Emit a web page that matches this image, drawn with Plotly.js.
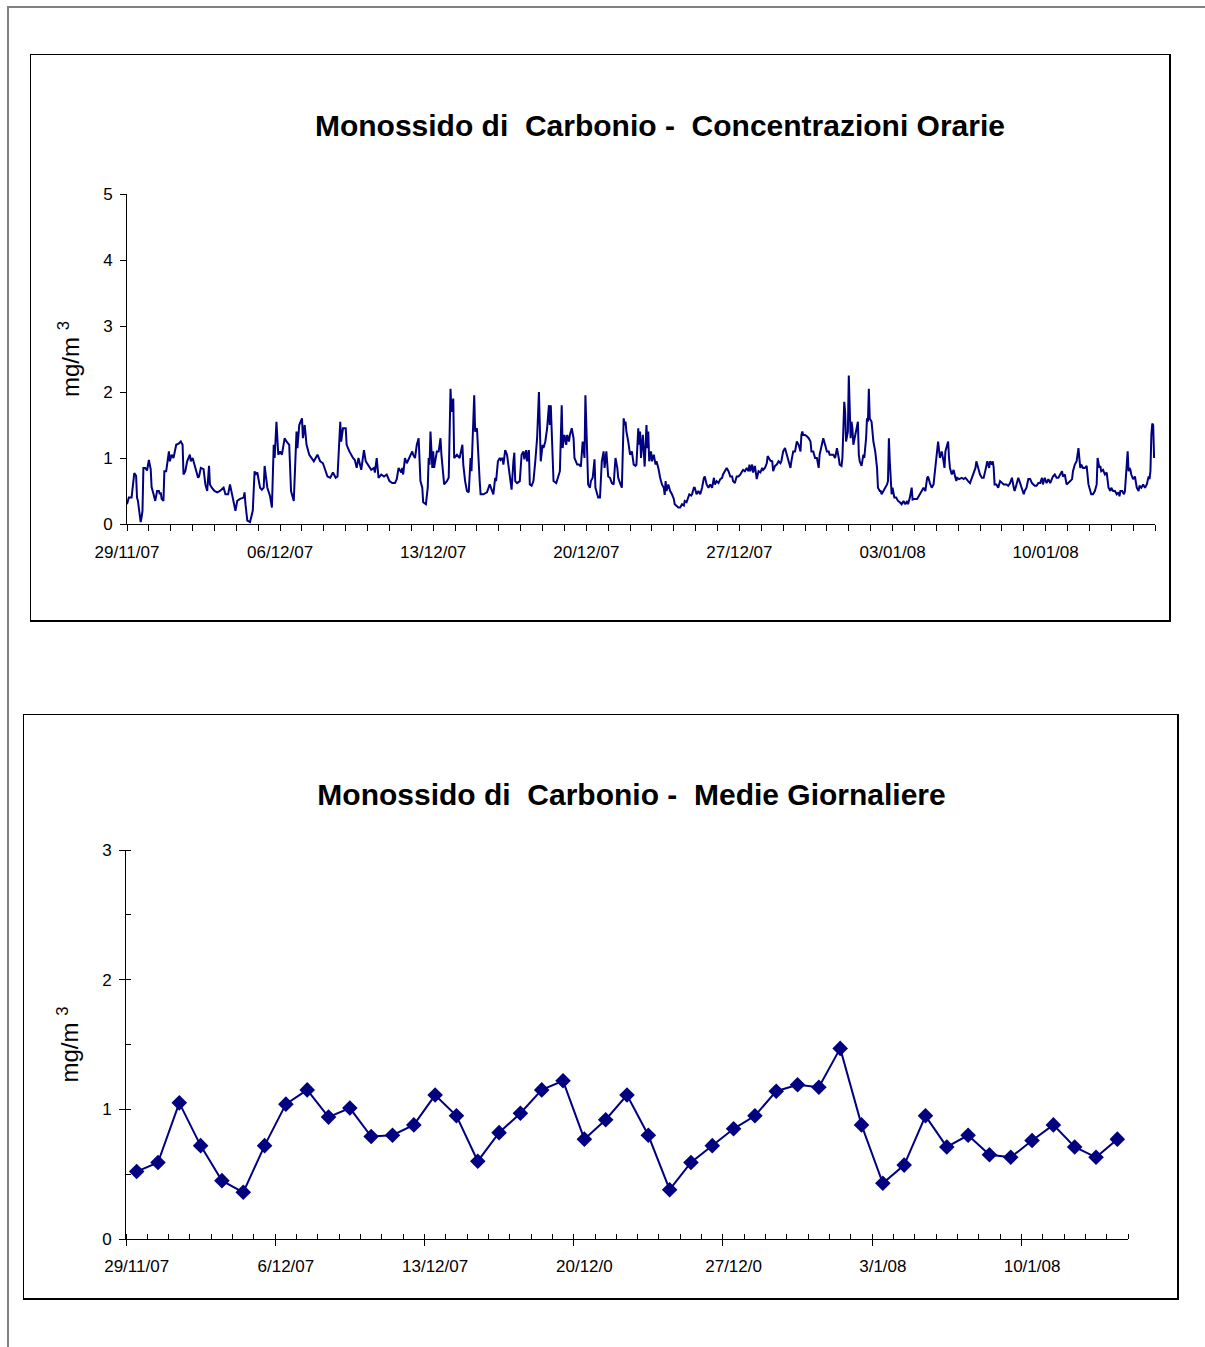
<!DOCTYPE html>
<html>
<head>
<meta charset="utf-8">
<script src="https://cdn.plot.ly/plotly-3.0.1.min.js"></script>
<style>
  html, body { margin:0; padding:0; background:#fff; width:1205px; height:1347px; overflow:hidden; }
  .abs { position:absolute; box-sizing:border-box; }
  #frame { left:7px; top:6px; width:1198px; height:1341px; border-top:2px solid #808080; border-left:2px solid #808080; }
  #box1 { left:30px; top:54px; width:1141px; height:568px; border-style:solid; border-color:#000; border-width:1px 2px 2px 1px; pointer-events:none; }
  #box2 { left:23px; top:714px; width:1156px; height:586px; border-style:solid; border-color:#000; border-width:1px 2px 2px 1px; pointer-events:none; }
  #chart1 { left:0; top:0; width:1205px; height:660px; }
  #chart2 { left:0; top:660px; width:1205px; height:687px; }
</style>
</head>
<body>
<div id="frame" class="abs"></div>
<div id="chart1" class="abs"></div>
<div id="chart2" class="abs"></div>
<div id="box1" class="abs"></div>
<div id="box2" class="abs"></div>
<script>
// ---------- Chart 1: hourly concentrations (hours since 29/11/07 00:00) ----------
const hourlyHours = [
  0,2,5,8,10,11,12,15,16,17,
  18,20,22,23,24,25,26,27,28,29,
  31,33,35,36,37,38,40,41,43,45,
  46,47,49,51,54,57,59,61,62,64,
  66,69,70,72,75,78,79,81,84,86,
  88,90,91,93,96,99,102,106,108,111,
  113,115,117,119,121,124,128,129,130,132,
  135,136,138,140,141,143,146,148,150,151,
  153,154,157,159,161,162,164,166,168,170,
  173,175,178,179,180,183,186,187,189,192,
  193,195,197,200,203,205,209,212,215,217,
  220,223,226,229,231,234,235,237,240,241,
  244,248,250,252,254,257,260,262,265,268,
  271,272,274,276,279,282,285,288,291,294,
  296,298,301,302,303,305,307,310,313,314,
  316,318,320,322,324,325,328,330,331,332,
  333,335,336,337,340,342,344,345,347,348,
  351,353,355,356,358,359,362,365,368,369,
  371,373,375,377,378,381,382,384,387,388,
  391,395,398,
  402,404,405,407,409,410,412,413,415,417,
  419,421,422,424,425,426,428,431,433,435,
  436,438,439,441,442,444,446,448,450,452,
  453,454,456,457,459,461,463,464,465,466,
  467,468,471,474,475,477,478,480,482,483,
  485,486,488,490,491,494,496,498,500,502,
  503,505,506,508,509,511,513,514,516,517,
  519,521,523,524,526,527,528,530,532,534,
  536,538,539,541,543,545,546,547,548,550,
  552,554,556,558,559,561,562,563,564,566,
  567,568,570,571,572,573,575,576,578,580,
  581,583,585,587,589,590,591,592,594,596,
  598,600,601,603,605,607,609,611,612,614,
  616,617,619,620,622,623,625,627,629,631,
  633,634,636,638,640,642,644,645,647,649,
  651,653,654,656,658,660,662,664,665,667,
  669,671,673,675,676,678,680,682,683,684,
  686,687,689,691,693,695,697,698,700,702,
  703,706,708,709,711,713,715,717,718,720,
  722,724,726,728,729,731,733,735,737,739,
  740,741,742,744,746,748,750,751,753,755,
  757,759,760,762,764,766,768,770,771,773,
  775,777,779,781,782,784,785,787,788,789,
  791,792,793,794,795,796,797,799,801,802,
  803,804,806,808,809,811,812,813,814,815,
  817,819,821,823,824,
  826,827,828,830,832,834,835,836,837,838,
  839,840,842,844,846,848,850,852,854,856,
  857,859,861,862,864,867,868,870,872,874,
  876,878,879,881,883,885,887,888,890,892,
  894,896,897,898,899,901,902,903,905,907,
  909,910,911,913,916,918,920,921,923,925,
  927,929,931,932,934,936,938,940,942,943,
  944,946,947,949,950,951,952,954,956,958,
  960,962,965,967,969,971,973,974,976,978,
  980,982,984,985,987,989,991,993,994,996,
  998,1000,1002,1004,1005,1007,1009,1011,1013,1015,
  1016,1018,1020,1022,1024,1026,1027,1029,1031,1033,
  1035,1037,1038,1040,1042,1044,1046,1047,1049,1051,
  1053,1055,1057,1058,1060,1062,1064,1065,1067,1068,
  1069,1071,1073,1075,1077,1079,1080,1082,1084,1086,
  1088,1089,1090,1092,1094,1095,1096,1098,1099,1100,
  1101,1102,1104,1106,1108,1110,1111,1113,1115,1117,
  1119,1121,1122,1123,1124,1125,1126,1127
];
const hourlyValues = [
  0.30,0.40,0.40,0.77,0.73,0.40,0.35,0.03,0.10,0.20,
  0.85,0.85,0.81,0.88,0.97,0.90,0.83,0.56,0.48,0.46,
  0.35,0.50,0.50,0.45,0.48,0.38,0.35,0.80,0.80,1.05,
  1.10,0.95,1.05,1.00,1.20,1.22,1.25,1.20,0.75,0.80,
  0.95,1.05,0.95,1.00,0.85,0.70,0.72,0.85,0.83,0.60,
  0.50,0.88,0.60,0.55,0.50,0.48,0.50,0.55,0.45,0.45,
  0.60,0.45,0.35,0.20,0.35,0.38,0.40,0.48,0.30,0.05,
  0.03,0.08,0.20,0.80,0.75,0.78,0.55,0.52,0.55,0.88,
  0.70,0.55,0.42,0.25,1.20,1.00,1.55,1.05,1.10,1.05,
  1.30,1.25,1.20,0.75,0.50,0.35,1.40,1.15,1.50,1.60,
  1.30,1.50,1.20,1.05,1.00,0.95,1.05,0.95,0.92,0.85,
  0.72,0.70,0.78,0.70,0.72,1.55,1.25,1.45,1.45,1.20,
  1.10,1.00,0.97,0.85,1.00,0.82,1.12,0.95,0.88,0.82,
  0.85,0.78,1.00,0.70,0.75,0.72,0.75,0.65,0.62,0.62,
  0.68,0.85,0.78,0.85,0.75,1.00,0.92,1.00,1.10,1.05,
  1.00,1.20,1.30,0.65,0.55,0.33,0.30,0.55,1.00,0.90,
  1.40,0.85,1.10,0.85,1.10,1.10,1.30,1.05,0.80,0.60,
  0.65,0.70,2.05,1.70,1.90,1.00,1.05,1.00,1.20,0.90,
  0.65,0.50,0.48,1.00,0.80,1.95,1.40,1.45,0.65,0.45,
  0.45,0.48,0.60,
  0.45,0.70,0.65,0.95,1.00,0.97,1.00,0.90,1.12,1.05,
  0.80,0.55,0.52,0.95,1.08,0.65,0.62,0.65,1.05,1.10,
  0.98,1.12,0.95,1.12,0.60,0.58,0.65,0.95,1.30,2.00,
  1.30,0.95,1.20,1.15,1.25,1.45,1.80,1.50,1.80,1.30,
  0.80,0.65,0.62,0.75,0.80,1.80,1.15,1.35,1.20,1.35,
  1.25,1.35,1.45,1.30,1.00,0.90,0.90,0.87,1.25,1.00,
  1.95,1.05,0.60,0.55,0.65,0.70,0.98,0.55,0.45,0.40,
  0.40,0.95,1.10,0.85,1.10,0.90,0.72,0.70,0.62,0.60,
  1.00,0.85,0.70,0.62,0.55,1.60,1.50,1.55,1.40,1.25,
  1.05,1.10,0.90,0.88,0.90,1.45,1.20,1.40,1.00,1.35,
  0.95,0.87,1.50,1.15,1.40,0.95,1.10,0.95,1.05,0.90,
  0.95,0.85,0.70,0.60,0.55,0.44,0.65,0.50,0.60,0.50,
  0.45,0.38,0.30,0.28,0.25,0.25,0.30,0.28,0.35,0.33,
  0.40,0.45,0.43,0.45,0.55,0.55,0.45,0.50,0.45,0.55,
  0.70,0.72,0.60,0.55,0.60,0.55,0.70,0.60,0.65,0.62,
  0.68,0.70,0.75,0.80,0.85,0.80,0.72,0.72,0.65,0.62,
  0.72,0.72,0.75,0.80,0.82,0.80,0.85,0.80,0.90,0.80,
  0.90,0.78,0.88,0.68,0.80,0.78,0.85,0.82,0.85,0.92,
  1.03,0.96,0.95,0.80,0.88,0.90,0.95,0.92,0.95,1.10,
  1.15,1.05,0.95,0.85,0.95,1.10,1.10,1.25,1.20,1.10,
  1.35,1.40,1.35,1.35,1.33,1.30,1.25,1.10,1.10,1.00,
  1.00,0.85,1.05,1.20,1.30,1.20,1.10,1.10,1.05,1.05,
  1.05,1.00,1.15,1.00,0.90,0.88,1.00,1.85,1.70,1.25,
  1.40,2.25,1.90,1.30,1.55,1.45,1.20,1.35,1.50,1.55,
  1.05,0.95,0.88,1.05,1.00,1.30,1.60,1.55,2.05,1.60,
  1.55,1.25,1.10,0.85,0.55,
  0.50,0.50,0.45,0.50,0.55,0.60,0.65,1.30,0.95,0.70,
  0.45,0.55,0.40,0.40,0.35,0.33,0.30,0.35,0.30,0.35,
  0.30,0.40,0.55,0.37,0.38,0.38,0.40,0.45,0.50,0.55,
  0.50,0.70,0.72,0.62,0.55,0.60,0.85,0.90,1.25,1.00,
  1.10,0.95,0.85,1.10,1.15,1.25,1.00,0.85,0.75,0.82,
  0.70,0.65,0.70,0.68,0.70,0.68,0.70,0.68,0.65,0.62,
  0.70,0.75,0.85,0.95,0.85,0.75,0.70,0.70,0.82,0.90,
  0.95,0.85,0.95,0.90,0.95,0.85,0.60,0.60,0.55,0.65,
  0.62,0.60,0.60,0.58,0.62,0.70,0.55,0.50,0.60,0.70,
  0.62,0.55,0.45,0.50,0.55,0.68,0.68,0.62,0.60,0.58,
  0.58,0.62,0.62,0.70,0.60,0.70,0.62,0.68,0.62,0.70,
  0.72,0.75,0.70,0.70,0.75,0.80,0.72,0.75,0.60,0.62,
  0.65,0.68,0.80,0.90,0.95,1.15,0.85,0.90,0.85,0.85,
  0.88,0.60,0.50,0.45,0.45,0.50,0.60,1.00,0.85,0.88,
  0.80,0.82,0.75,0.78,0.55,0.50,0.55,0.50,0.50,0.45,
  0.48,0.42,0.50,0.50,0.45,0.50,0.70,1.10,0.80,0.85,
  0.82,0.75,0.68,0.72,0.55,0.50,0.58,0.55,0.60,0.55,
  0.60,0.72,0.68,0.80,1.35,1.52,1.50,1.00
];
const hourlyTickDates  = ['2007-11-29','2007-12-06','2007-12-13','2007-12-20','2007-12-27','2008-01-03','2008-01-10'];
const hourlyTickLabels = ['29/11/07','06/12/07','13/12/07','20/12/07','27/12/07','03/01/08','10/01/08'];
const hourlyRange = ['2007-11-29 00:00','2008-01-15 00:00'];

// ---------- Chart 2: daily means ----------
const dailyDates = [
  '2007-11-29','2007-11-30','2007-12-01','2007-12-02','2007-12-03','2007-12-04','2007-12-05',
  '2007-12-06','2007-12-07','2007-12-08','2007-12-09','2007-12-10','2007-12-11','2007-12-12',
  '2007-12-13','2007-12-14','2007-12-15','2007-12-16','2007-12-17','2007-12-18','2007-12-19',
  '2007-12-20','2007-12-21','2007-12-22','2007-12-23','2007-12-24','2007-12-25','2007-12-26',
  '2007-12-27','2007-12-28','2007-12-29','2007-12-30','2007-12-31','2008-01-01','2008-01-02',
  '2008-01-03','2008-01-04','2008-01-05','2008-01-06','2008-01-07','2008-01-08','2008-01-09',
  '2008-01-10','2008-01-11','2008-01-12','2008-01-13','2008-01-14'
];
const dailyValues = [
  0.52,0.59,1.05,0.72,0.45,0.36,0.72,
  1.04,1.15,0.94,1.01,0.79,0.80,0.88,
  1.11,0.95,0.60,0.82,0.97,1.15,1.22,
  0.77,0.92,1.11,0.80,0.38,0.59,0.72,
  0.85,0.95,1.14,1.19,1.17,1.47,0.88,
  0.43,0.57,0.95,0.71,0.80,0.65,0.63,
  0.76,0.88,0.71,0.63,0.77
];
const dailyLabelDates = ['2007-11-29','2007-12-06','2007-12-13','2007-12-20','2007-12-27','2008-01-03','2008-01-10'];
const dailyTickLabels = ['29/11/07','6/12/07','13/12/07','20/12/0','27/12/0','3/1/08','10/1/08'];
const dailyTickBounds = ['2007-11-28 12:00','2007-12-05 12:00','2007-12-12 12:00','2007-12-19 12:00','2007-12-26 12:00','2008-01-02 12:00','2008-01-09 12:00'];
const dailyRange = ['2007-11-28 12:00','2008-01-14 12:00'];

const title1 = 'Monossido di&nbsp; Carbonio -&nbsp; Concentrazioni Orarie';
const title2 = 'Monossido di&nbsp; Carbonio -&nbsp; Medie Giornaliere';
const yTitle = 'mg/m <sup>3</sup>';

// ---------- build ----------
const startMs = Date.UTC(2007, 10, 29);
const hourlyX = hourlyHours.map(h => new Date(startMs + h * 3600000).toISOString().slice(0, 16).replace('T', ' '));

const FONT = 'Liberation Sans, Arial, Helvetica, sans-serif';
const NAVY = '#000080';
const DAY = 86400000;

const baseAxis = {
  showline: true, linecolor: '#000', linewidth: 1, showgrid: false, zeroline: false,
  tickcolor: '#000', tickwidth: 1, fixedrange: true
};

Plotly.newPlot('chart1', [{
  type: 'scatter', mode: 'lines', x: hourlyX, y: hourlyValues,
  line: { color: NAVY, width: 2 }, hoverinfo: 'skip'
}], {
  width: 1205, height: 660,
  margin: { l: 127, r: 50, t: 194, b: 136 },
  paper_bgcolor: 'rgba(0,0,0,0)', plot_bgcolor: 'rgba(0,0,0,0)',
  font: { family: FONT, color: '#000', size: 17 },
  showlegend: false,
  title: { text: title1, x: 0.5477, xanchor: 'center', y: 0.8106, yanchor: 'middle',
           font: { family: FONT, size: 30, weight: 700, color: '#000' } },
  xaxis: Object.assign({}, baseAxis, {
    type: 'date', range: hourlyRange, tickmode: 'array',
    tickvals: hourlyTickDates, ticktext: hourlyTickLabels,
    ticks: 'outside', ticklen: 6, ticklabelstandoff: 7,
    tickfont: { size: 17 },
    minor: { ticks: 'outside', ticklen: 6, tickcolor: '#000', tick0: '2007-11-29', dtick: DAY, showgrid: false }
  }),
  yaxis: Object.assign({}, baseAxis, {
    range: [0, 5], tick0: 0, dtick: 1, ticks: 'outside', ticklen: 6, ticklabelstandoff: 4,
    tickfont: { size: 17 },
    title: { text: yTitle, font: { size: 24 }, standoff: 16 }
  })
}, { staticPlot: true });

Plotly.newPlot('chart2', [{
  type: 'scatter', mode: 'lines+markers', x: dailyDates, y: dailyValues,
  line: { color: NAVY, width: 2 },
  marker: { symbol: 'diamond', size: 12, color: NAVY, line: { width: 0 } },
  hoverinfo: 'skip'
}, {
  // invisible companion trace so the tick-mark axis (x2) gets drawn
  type: 'scatter', mode: 'markers', x: dailyDates, y: dailyValues, xaxis: 'x2', yaxis: 'y',
  marker: { opacity: 0, size: 1 }, hoverinfo: 'skip', showlegend: false
}], {
  width: 1205, height: 687,
  margin: { l: 126, r: 77, t: 190, b: 108 },
  paper_bgcolor: 'rgba(0,0,0,0)', plot_bgcolor: 'rgba(0,0,0,0)',
  font: { family: FONT, color: '#000', size: 17 },
  showlegend: false,
  title: { text: title2, x: 0.5241, xanchor: 'center', y: 0.8035, yanchor: 'middle',
           font: { family: FONT, size: 30, weight: 700, color: '#000' } },
  xaxis: Object.assign({}, baseAxis, {
    type: 'date', range: dailyRange, tickmode: 'array',
    tickvals: dailyLabelDates, ticktext: dailyTickLabels,
    ticks: '', ticklabelstandoff: 12,
    tickfont: { size: 17 }
  }),
  xaxis2: {
    type: 'date', range: dailyRange, overlaying: 'x', anchor: 'y', side: 'bottom',
    showline: false, showgrid: false, zeroline: false, showticklabels: false, fixedrange: true,
    tickmode: 'array', tickvals: dailyTickBounds,
    ticks: 'outside', ticklen: 6, tickcolor: '#000', tickwidth: 1,
    minor: { ticks: 'inside', ticklen: 5, tickcolor: '#000', tickwidth: 1, tick0: '2007-11-28 12:00', dtick: DAY, showgrid: false }
  },
  yaxis: Object.assign({}, baseAxis, {
    range: [0, 3], tick0: 0, dtick: 1, ticks: 'outside', ticklen: 6, ticklabelstandoff: 4,
    tickfont: { size: 17 },
    minor: { ticks: 'inside', ticklen: 5, tickcolor: '#000', tick0: 0, dtick: 0.5, showgrid: false },
    title: { text: yTitle, font: { size: 24 }, standoff: 16 }
  })
}, { staticPlot: true });
</script>
</body>
</html>
